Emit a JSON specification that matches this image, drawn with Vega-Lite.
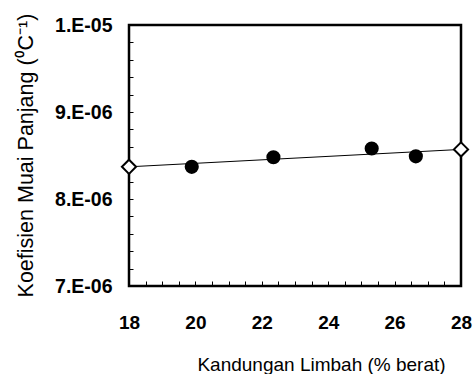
{
  "$schema": "https://vega.github.io/schema/vega-lite/v6.json",
  "autosize": "none",
  "width": 332,
  "height": 261,
  "padding": {"left": 129, "top": 25, "right": 15, "bottom": 88},
  "background": "white",
  "config": {
    "view": {"stroke": "black", "strokeWidth": 2.5},
    "axis": {"grid": false, "domain": false, "labelFont": "Liberation Sans", "titleFont": "Liberation Sans", "labelColor": "black", "titleColor": "black", "labelFlush": false}
  },
  "resolve": {"axis": {"x": "independent", "y": "independent"}},
  "datasets": {
    "obs": [
      {"limbah": 19.89, "koef": 8.37e-6},
      {"limbah": 22.35, "koef": 8.48e-6},
      {"limbah": 25.31, "koef": 8.58e-6},
      {"limbah": 26.64, "koef": 8.49e-6}
    ],
    "fit": [
      {"limbah": 18, "koef": 8.37e-6},
      {"limbah": 28, "koef": 8.57e-6}
    ]
  },
  "layer": [
    {
      "data": {"name": "obs"},
      "mark": {"type": "point", "shape": "circle", "filled": true, "color": "black", "size": 200, "opacity": 1},
      "encoding": {
        "x": {"field": "limbah", "type": "quantitative", "scale": {"domain": [18, 28], "nice": false, "zero": false}, "axis": {"orient": "bottom", "labels": false, "title": null, "tickSize": -5, "tickColor": "black", "tickWidth": 1, "values": [18.5, 19, 19.5, 20, 20.5, 21, 21.5, 22, 22.5, 23, 23.5, 24, 24.5, 25, 25.5, 26, 26.5, 27, 27.5]}},
        "y": {"field": "koef", "type": "quantitative", "scale": {"domain": [7e-6, 1e-5], "nice": false, "zero": false}, "axis": {"orient": "left", "labels": false, "title": null, "tickSize": -4, "tickColor": "black", "tickWidth": 1, "values": [7.2e-6, 7.4e-6, 7.6e-6, 7.8e-6, 8e-6, 8.2e-6, 8.4e-6, 8.6e-6, 8.8e-6, 9e-6, 9.2e-6, 9.4e-6, 9.6e-6, 9.8e-6]}}
      }
    },
    {
      "data": {"name": "fit"},
      "mark": {"type": "line", "color": "black", "strokeWidth": 1},
      "encoding": {
        "x": {"field": "limbah", "type": "quantitative",
          "axis": {"orient": "bottom", "values": [18, 20, 22, 24, 26, 28], "ticks": false, "labelPadding": 27, "labelFontSize": 19, "labelFontWeight": "bold", "title": "Kandungan Limbah (% berat)", "titleFontSize": 19, "titleFontWeight": "normal", "titleX": 192, "titleY": 84, "titleAlign": "center", "titleBaseline": "alphabetic"}},
        "y": {"field": "koef", "type": "quantitative",
          "axis": {"orient": "left", "values": [7e-6, 8e-6, 9e-6, 1e-5], "ticks": false, "labelPadding": 17, "labelFontSize": 19.5, "labelFontWeight": "bold", "labelExpr": "datum.value >= 9.5e-6 ? '1.E-05' : round(datum.value * 1e6) + '.E-06'", "title": "Koefisien Muai Panjang (⁰C⁻¹)", "titleFontSize": 21.5, "titleFontWeight": "normal", "titleX": -97, "titleY": 130, "titleAngle": -90, "titleAlign": "center", "titleBaseline": "alphabetic"}}
      }
    },
    {
      "data": {"name": "fit"},
      "mark": {"type": "point", "shape": "diamond", "filled": true, "fill": "white", "stroke": "black", "strokeWidth": 2, "size": 200, "opacity": 1},
      "encoding": {
        "x": {"field": "limbah", "type": "quantitative", "axis": null},
        "y": {"field": "koef", "type": "quantitative", "axis": null}
      }
    }
  ]
}
